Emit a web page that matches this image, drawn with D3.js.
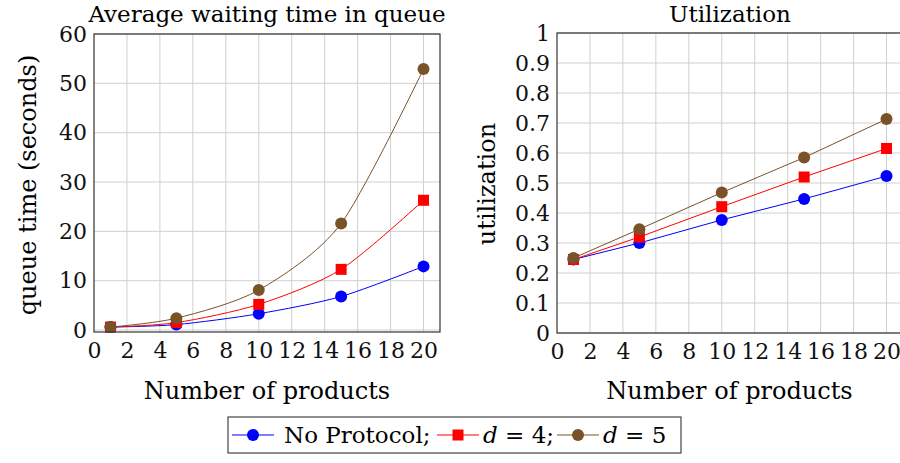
<!DOCTYPE html>
<html>
<head>
<meta charset="utf-8">
<script src="https://cdn.jsdelivr.net/npm/d3@7"></script>
<style>
  body { margin: 0; background: #fff; }
  svg { display: block; font-family: "DejaVu Serif", serif; }
  .grid line { stroke: #d0d0d0; stroke-width: 1; }
  .axis path, .axis line { stroke: none; }
  .axis text { font-family: "DejaVu Serif", serif; font-size: 22px; fill: #111; }
  .frame { fill: none; stroke: #333; stroke-width: 1.2; }
</style>
</head>
<body>
<svg id="MyGraph" width="900" height="463"></svg>
<script>
// x values (number of products)
var products = [1, 5, 10, 15, 20];

// average waiting time in queue (seconds)
var waitNoProtocol = [0.6, 1.1, 3.3, 6.8, 12.9];
var waitD4 = [0.6, 1.5, 5.2, 12.3, 26.3];
var waitD5 = [0.6, 2.4, 8.1, 21.6, 52.9];

// utilization
var utilNoProtocol = [0.245, 0.30, 0.377, 0.447, 0.523];
var utilD4 = [0.245, 0.32, 0.421, 0.52, 0.615];
var utilD5 = [0.25, 0.346, 0.468, 0.585, 0.713];

var xTicks = [0, 2, 4, 6, 8, 10, 12, 14, 16, 18, 20];
var waitTicks = [0, 10, 20, 30, 40, 50, 60];
var utilTicks = [0, 0.1, 0.2, 0.3, 0.4, 0.5, 0.6, 0.7, 0.8, 0.9, 1];

var seriesNames = ["No Protocol;", "d = 4;", "d = 5"];
var colors = ["#0000ff", "#ff0000", "#7a5228"];
var markers = ["circle", "square", "circle"];

var svg = d3.select("#MyGraph");

function drawMarker(g, type, color, cx, cy) {
  if (type == "square") {
    g.append("rect")
        .attr("x", cx - 5.5).attr("y", cy - 5.5)
        .attr("width", 11).attr("height", 11)
        .attr("fill", color);
  } else {
    g.append("circle")
        .attr("cx", cx).attr("cy", cy).attr("r", 6)
        .attr("fill", color);
  }
}

function drawPanel(arg) {
  var g = svg.append("g");

  var x_scale = d3.scaleLinear().domain([0, 21]).range([arg.left, arg.right]);
  var y_scale = d3.scaleLinear().domain(arg.yDomain).range([arg.bottom, arg.top]);

  // grid
  var grid = g.append("g").attr("class", "grid");
  grid.selectAll("line.v")
      .data(xTicks.filter(function(d){ return d > 0; }))
      .enter().append("line")
      .attr("x1", function(d){ return x_scale(d); })
      .attr("x2", function(d){ return x_scale(d); })
      .attr("y1", arg.top).attr("y2", arg.bottom);
  grid.selectAll("line.h")
      .data(arg.yTicks)
      .enter().append("line")
      .attr("x1", arg.left).attr("x2", arg.right)
      .attr("y1", function(d){ return y_scale(d); })
      .attr("y2", function(d){ return y_scale(d); });

  // lines
  var line = d3.line()
      .x(function(d){ return x_scale(d.x); })
      .y(function(d){ return y_scale(d.y); })
      .curve(arg.smooth ? d3.curveCardinal.tension(0.2) : d3.curveLinear);

  arg.series.forEach(function(vals, i){
    var data = products.map(function(p, j){ return {x: p, y: vals[j]}; });
    g.append("path")
        .datum(data)
        .attr("fill", "none")
        .attr("stroke", colors[i])
        .attr("stroke-width", 1)
        .attr("d", line);
  });
  arg.series.forEach(function(vals, i){
    products.forEach(function(p, j){
      drawMarker(g, markers[i], colors[i], x_scale(p), y_scale(vals[j]));
    });
  });

  // frame
  g.append("rect")
      .attr("class", "frame")
      .attr("x", arg.left).attr("y", arg.top)
      .attr("width", arg.right - arg.left)
      .attr("height", arg.bottom - arg.top);

  // axes
  g.append("g")
      .attr("class", "axis")
      .attr("transform", "translate(0," + arg.bottom + ")")
      .call(d3.axisBottom(x_scale).tickValues(xTicks).tickSize(0).tickPadding(10));

  g.append("g")
      .attr("class", "axis")
      .attr("transform", "translate(" + arg.left + ",0)")
      .call(d3.axisLeft(y_scale).tickValues(arg.yTicks).tickSize(0).tickPadding(7)
          .tickFormat(function(d){ return String(d); }));

  // titles
  g.append("text")
      .attr("x", arg.titleX).attr("y", 22)
      .attr("text-anchor", "middle")
      .style("font-size", "23px")
      .text(arg.title);

  g.append("text")
      .attr("x", (arg.left + Math.min(arg.right, 886)) / 2 + arg.xLabelShift).attr("y", 399)
      .attr("text-anchor", "middle")
      .style("font-size", "24px")
      .text("Number of products");

  g.append("text")
      .attr("transform", "translate(" + arg.yLabelX + "," + arg.yLabelY + ") rotate(-90)")
      .attr("text-anchor", "middle")
      .style("font-size", "24px")
      .text(arg.yLabel);
}

drawPanel({
  left: 94, right: 440, top: 34, bottom: 332,
  yDomain: [-0.4, 60], yTicks: waitTicks,
  series: [waitNoProtocol, waitD4, waitD5], smooth: true,
  title: "Average waiting time in queue", titleX: 267,
  yLabel: "queue time (seconds)", yLabelX: 36, yLabelY: 185,
  xLabelShift: 0
});

drawPanel({
  left: 557, right: 903, top: 33, bottom: 333,
  yDomain: [0, 1], yTicks: utilTicks,
  series: [utilNoProtocol, utilD4, utilD5], smooth: false,
  title: "Utilization", titleX: 730,
  yLabel: "utilization", yLabelX: 495, yLabelY: 184,
  xLabelShift: 8
});

// legend
var legend = svg.append("g");
legend.append("rect")
    .attr("x", 228).attr("y", 417).attr("width", 453).attr("height", 36)
    .attr("fill", "#fff").attr("stroke", "#444").attr("stroke-width", 1.2);

var legendX = [232, 437, 557];
var legendTextX = [284, 483, 603];
seriesNames.forEach(function(name, i){
  legend.append("line")
      .attr("x1", legendX[i]).attr("x2", legendX[i] + 42)
      .attr("y1", 435).attr("y2", 435)
      .attr("stroke", colors[i]).attr("stroke-width", 1);
  drawMarker(legend, markers[i], colors[i], legendX[i] + 21, 435);
  var t = legend.append("text")
      .attr("x", legendTextX[i]).attr("y", 443)
      .style("font-size", "23px");
  if (i == 0) {
    t.text(name);
  } else {
    t.append("tspan").style("font-style", "italic").text("d");
    t.append("tspan").text(name.slice(1));
  }
});
</script>
</body>
</html>
